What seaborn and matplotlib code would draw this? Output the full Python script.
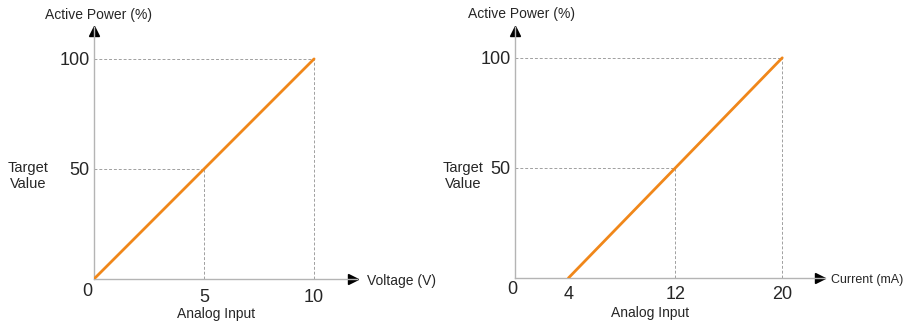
import matplotlib
matplotlib.use("Agg")
import matplotlib.pyplot as plt
import seaborn as sns

# data: analog input vs. active power
volt_x = [0, 10]
volt_y = [0, 100]
volt_ticks = [5, 10]
volt_tick_labels = ["5", "10"]

curr_x = [4, 20]
curr_y = [0, 100]
curr_ticks = [4, 12, 20]
curr_tick_labels = ["4", "12", "20"]

power_ticks = [50, 100]
power_tick_labels = ["50", "100"]

# guide points (x, y) for the dashed helper lines
volt_guides = [(5, 50), (10, 100)]
curr_guides = [(12, 50), (20, 100)]

sns.set_style("white")
plt.rcParams['font.family'] = ['Liberation Sans', 'DejaVu Sans']

W, H = 905, 324
fig = plt.figure(figsize=(W / 100, H / 100), dpi=100)

ORANGE = "#F0871A"
AXIS_GRAY = "#b4b4b4"
DASH_GRAY = "#a0a0a0"


def px(x, y):
    return x / W, 1 - y / H


def setup_axis(ax, xmax, ymax, xticks, xlabels, xpad):
    ax.set_xlim(0, xmax)
    ax.set_ylim(0, ymax)
    for s in ["top", "right"]:
        ax.spines[s].set_visible(False)
    for s in ["left", "bottom"]:
        ax.spines[s].set_color(AXIS_GRAY)
        ax.spines[s].set_linewidth(1.0)
    ax.set_xticks(xticks)
    ax.set_xticklabels(xlabels)
    ax.set_yticks(power_ticks)
    ax.set_yticklabels(power_tick_labels)
    ax.tick_params(axis="x", length=0, pad=xpad, labelsize=13)
    ax.tick_params(axis="y", direction="in", length=9, width=1,
                   color=AXIS_GRAY, pad=3, labelsize=13)
    ax.set_xlabel("")
    ax.set_ylabel("")
    # arrow heads
    ax.plot([0.985], [0], marker=">", color="black", markersize=7,
            transform=ax.transAxes, clip_on=False)
    ax.plot([0], [0.985], marker="^", color="black", markersize=7,
            transform=ax.transAxes, clip_on=False)


def guides(ax, pts):
    for gx, gy in pts:
        ax.plot([0, gx], [gy, gy], color=DASH_GRAY, lw=0.7,
                dashes=(3, 2), zorder=1)
        ax.plot([gx, gx], [0, gy], color=DASH_GRAY, lw=0.7,
                dashes=(3, 2), zorder=1)


# left panel: voltage
ax1 = fig.add_axes([94 / W, 45 / H, 263 / W, 252 / H])
guides(ax1, volt_guides)
sns.lineplot(x=volt_x, y=volt_y, ax=ax1, color=ORANGE, linewidth=2, zorder=3)
setup_axis(ax1, 11.95, 114.5, volt_ticks, volt_tick_labels, 7)

# right panel: current
ax2 = fig.add_axes([515 / W, 46 / H, 310 / W, 251 / H])
guides(ax2, curr_guides)
sns.lineplot(x=curr_x, y=curr_y, ax=ax2, color=ORANGE, linewidth=2, zorder=3)
setup_axis(ax2, 23.2, 114, curr_ticks, curr_tick_labels, 6)

# texts
fig.text(*px(98, 15), "Active Power (%)", fontsize=10, ha="center", va="center")
fig.text(*px(521, 14), "Active Power (%)", fontsize=10, ha="center", va="center")
fig.text(*px(28, 176), "Target\nValue", fontsize=10.5, ha="center", va="center",
         linespacing=1.2)
fig.text(*px(463, 176), "Target\nValue", fontsize=10.5, ha="center", va="center",
         linespacing=1.2)
fig.text(*px(87, 291), "0", fontsize=13, ha="center", va="center")
fig.text(*px(512, 290), "0", fontsize=13, ha="center", va="center")
fig.text(*px(367, 281), "Voltage (V)", fontsize=10, ha="left", va="center")
fig.text(*px(831, 280), "Current (mA)", fontsize=9, ha="left", va="center")
fig.text(*px(216, 314), "Analog Input", fontsize=10, ha="center", va="center")
fig.text(*px(650, 313), "Analog Input", fontsize=10, ha="center", va="center")

fig.savefig("out.png", dpi=100)
